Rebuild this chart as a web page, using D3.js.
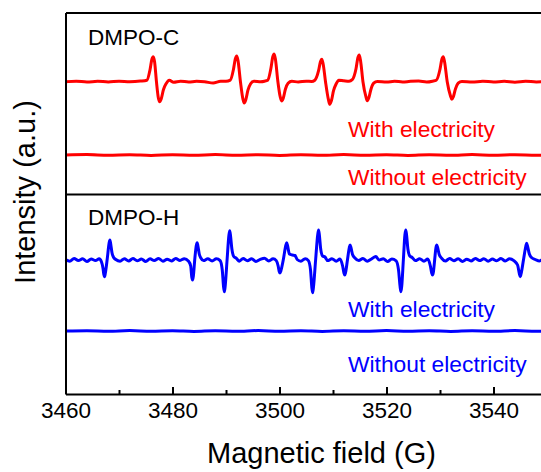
<!DOCTYPE html>
<html>
<head>
<meta charset="utf-8">
<script src="https://cdn.jsdelivr.net/npm/d3@7"></script>
<style>
  body { margin: 0; background: #fff; }
  svg { display: block; overflow: hidden; }
  text { font-family: "Liberation Sans", Arial, Helvetica, sans-serif; }
</style>
</head>
<body>
<svg id="chart" width="541" height="472"></svg>
<script>
// ---- data -------------------------------------------------------------
const fieldTicks = [3460, 3480, 3500, 3520, 3540];
const fieldMinorTicks = [3470, 3490, 3510, 3530, 3550];
const fieldDomain = [3460, 3550];
const panelLabels = ["DMPO-C", "DMPO-H"];
const traceLabels = ["With electricity", "Without electricity"];

// DMPO-C adduct, with electricity: [field (G), intensity (a.u.)]
const dmpoCWith = [
  [3460, 0], [3462, 0.5], [3464, -0.3], [3466, 0.4], [3468, -0.2], [3470, 0.5],
  [3472, 0], [3474, 0.6],
  [3475.2, 1.5], [3475.8, 12], [3476.15, 22.5], [3476.4, 25], [3476.65, 20], [3477.0, 0],
  [3477.35, -16], [3477.6, -20], [3477.9, -17], [3478.3, -8], [3478.8, -2], [3479.4, 1.5],
  [3480.2, -0.5], [3481.5, 0.5], [3483, -0.3], [3484.5, 0.4], [3486, 0], [3487.6, -1.4],
  [3489, 0.4], [3490.0, 0.4],
  [3490.8, 1.5], [3491.4, 12.5], [3491.75, 23], [3492.0, 25.7], [3492.25, 21], [3492.7, 0],
  [3493.15, -17], [3493.4, -21.3], [3493.7, -18], [3494.1, -8.5], [3494.6, -2], [3495.2, 0.5],
  [3496.5, 0], [3497.2, 0.5],
  [3497.8, 1.5], [3498.4, 13.5], [3498.75, 25], [3499.0, 27.7], [3499.25, 22], [3499.7, 0],
  [3500.15, -15.5], [3500.4, -19.3], [3500.7, -16.5], [3501.1, -7.5], [3501.6, -1.5], [3502.3, 0.5],
  [3503.5, -0.3], [3505.0, 0.5], [3506.0, 0.3],
  [3506.6, 1.5], [3507.3, 11], [3507.65, 20], [3507.9, 22.4], [3508.15, 18], [3508.6, 0],
  [3509.15, -18], [3509.4, -22.6], [3509.7, -19], [3510.1, -9], [3510.6, -2], [3511.1, 1.5],
  [3512, 1], [3513, 0.5],
  [3513.6, 2], [3514.3, 13], [3514.65, 24], [3514.9, 26.7], [3515.15, 21], [3515.6, 0],
  [3516.15, -15], [3516.4, -19], [3516.7, -16], [3517.1, -7.5], [3517.6, -1.5], [3518.3, 0.3],
  [3520, -0.4], [3521.5, 0.5], [3523, -0.3], [3524.5, 0.4], [3526, 0.6], [3527.5, -0.3],
  [3528.6, 0.5],
  [3529.3, 1.5], [3530.0, 12.5], [3530.35, 22.5], [3530.6, 25], [3530.85, 20], [3531.35, 0],
  [3531.95, -14], [3532.2, -17.6], [3532.5, -15], [3532.9, -7], [3533.4, -1.5], [3534.1, 0.3],
  [3536, -0.4], [3538, 0.5], [3540, -0.3], [3542, 0.4], [3544, -0.5], [3546, 0.4],
  [3548, -0.2], [3550, 0.3]
];

// DMPO-C, without electricity
const dmpoCWithout = [
  [3460, 0], [3464, 0.4], [3468, -0.3], [3472, 0.3], [3476, -0.4], [3480, 0.3],
  [3484, -0.2], [3488, 0.4], [3492, -0.3], [3496, 0.3], [3500, -0.4], [3504, 0.3],
  [3508, -0.3], [3512, 0.4], [3516, -0.2], [3520, 0.3], [3524, -0.4], [3528, 0.3],
  [3532, -0.3], [3536, 0.4], [3540, -0.2], [3544, 0.3], [3548, -0.3], [3550, 0]
];

// DMPO-H adduct, with electricity
const dmpoHWith = [
  [3460, 0.5], [3460.8, -1.2], [3461.6, 1.5], [3462.4, -0.6], [3463.2, 1.2], [3464, -1.5],
  [3464.8, 1], [3465.6, -0.5], [3466.3, 1.2], [3466.7, -1.5],
  [3467.0, -8], [3467.17, -14.5], [3467.3, -16.7], [3467.45, -13], [3467.8, 1],
  [3468.15, 17], [3468.3, 20], [3468.45, 16], [3468.7, 7], [3469.0, 2.5], [3469.4, 0.5],
  [3470.2, -1.2], [3471, 1.3], [3471.8, -1], [3472.6, 1.5], [3473.4, -0.8], [3474.2, 1],
  [3475, -1.5], [3475.8, 1.2], [3476.6, -0.6], [3477.4, 1.6], [3478.2, -1.2], [3479, 0.8],
  [3479.8, -1], [3480.6, 1.5], [3481.4, -0.5], [3482.2, 1.3], [3483, -1.2],
  [3483.4, -6], [3483.6, -17], [3483.75, -20], [3483.9, -16], [3484.15, 0],
  [3484.45, 14.5], [3484.6, 17.3], [3484.75, 14], [3485.0, 6], [3485.3, 2], [3485.8, -0.6],
  [3486.6, 1.3], [3487.4, -1], [3488.2, 1.3], [3488.9, -0.6],
  [3489.3, -10], [3489.55, -27], [3489.7, -31.7], [3489.85, -26], [3490.2, 0],
  [3490.55, 25], [3490.7, 29.3], [3490.85, 24], [3491.1, 11], [3491.45, 3.5], [3491.9, 1.8],
  [3492.5, -1.2], [3493.2, 1.5], [3494, -0.8], [3494.8, 1.3], [3495.6, -1.5], [3496.4, 0.6],
  [3497.2, 1.8], [3498, -1], [3498.8, 1.3], [3499.4, -0.6],
  [3499.75, -6], [3499.95, -11.5], [3500.1, -13], [3500.25, -11], [3500.7, 0],
  [3501.2, 15], [3501.35, 17.3], [3501.5, 14.5], [3501.85, 6], [3502.4, 5], [3502.9, 4.5],
  [3503.3, 0.5], [3504, -1.2], [3504.8, 1.3], [3505.4, -0.6],
  [3505.8, -10], [3506.05, -28], [3506.2, -32.7], [3506.35, -27], [3506.75, 0],
  [3507.15, 25.5], [3507.3, 30], [3507.45, 25], [3507.7, 11], [3508.05, 4], [3508.5, 3],
  [3509, -0.6], [3509.8, 1.3], [3510.6, -1.2], [3511.3, 1],
  [3511.8, -6], [3512.05, -13], [3512.2, -15], [3512.35, -12.5], [3512.7, 0],
  [3513.05, 12.5], [3513.2, 15], [3513.35, 12.5], [3513.65, 5.5], [3514.1, 2], [3514.8, -0.6],
  [3515.6, 1.5], [3516.4, -1.2], [3517.2, 1], [3518, 3.5], [3518.6, 0], [3519.4, 1.3],
  [3520.2, -1.5], [3521, 1], [3521.8, -0.8],
  [3522.25, -10], [3522.55, -27], [3522.7, -31.7], [3522.85, -26], [3523.15, 0],
  [3523.45, 25.5], [3523.6, 30], [3523.75, 25], [3524.0, 11], [3524.35, 4], [3524.8, 2.5],
  [3525.4, -0.6], [3526.2, 1.3], [3527, -1.2], [3527.7, 1],
  [3528.2, -6], [3528.45, -13], [3528.6, -15], [3528.75, -12.5], [3529.0, 0],
  [3529.25, 12.5], [3529.4, 15], [3529.55, 12.5], [3529.85, 5.5], [3530.3, 1.8], [3531, -1],
  [3531.8, 1.5], [3532.6, -0.8], [3533.4, 1.3], [3534.2, -1.5], [3535, 0.8], [3535.8, -1],
  [3536.6, 1.5], [3537.4, -0.6], [3538.2, 1.3], [3539, -1.2], [3539.8, 1], [3540.6, -0.8],
  [3541.4, 1.5], [3542.2, -1], [3543, 1.3], [3543.8, -0.6],
  [3544.5, -5], [3544.85, -14], [3545.0, -16.7], [3545.15, -14], [3545.6, 0],
  [3546.05, 14], [3546.2, 16.7], [3546.35, 14], [3546.7, 6], [3547.1, 2.5], [3547.8, 0.5],
  [3548.6, -1], [3549.4, 1.2], [3550, 0]
];

// DMPO-H, without electricity
const dmpoHWithout = [
  [3460, 0], [3464, 0.3], [3468, -0.3], [3472, 0.4], [3476, -0.2], [3480, 0.3],
  [3484, -0.4], [3488, 0.3], [3492, -0.3], [3496, 0.4], [3500, -0.2], [3504, 0.3],
  [3508, -0.4], [3512, 0.3], [3516, -0.3], [3520, 0.4], [3524, -0.2], [3528, 0.3],
  [3532, -0.4], [3536, 0.3], [3540, -0.3], [3544, 0.4], [3548, -0.2], [3550, 0]
];

// ---- layout -----------------------------------------------------------
const svg = d3.select("#chart");
const plot = { left: 65.5, right: 547, top: 12.5, bottom: 394 };

const x = d3.scaleLinear().domain(fieldDomain).range([plot.left, plot.right]);
// stacked intensity axis (a.u.); each trace sits on its own offset
const y = d3.scaleLinear().domain([0, 381.5]).range([plot.bottom, plot.top]);
const dividerLevel = 200;

const traces = [
  { data: dmpoCWith,     offset: 312.3, color: "#ff0000" },
  { data: dmpoCWithout,  offset: 239,   color: "#ff0000" },
  { data: dmpoHWith,     offset: 134,   color: "#0000ff" },
  { data: dmpoHWithout,  offset: 63,    color: "#0000ff" }
];

const line = d3.line()
  .x(d => x(d[0]))
  .curve(d3.curveMonotoneX);

svg.append("g")
  .selectAll("path")
  .data(traces)
  .join("path")
  .attr("fill", "none")
  .attr("stroke", d => d.color)
  .attr("stroke-width", 3)
  .attr("stroke-linejoin", "round")
  .attr("d", t => line.y(d => y(t.offset + d[1]))(t.data));

// frame: bottom axis, left axis, top edge and panel divider
const bottomAxis = svg.append("g")
  .attr("transform", `translate(0,${plot.bottom})`)
  .call(d3.axisBottom(x).tickValues(fieldTicks).tickFormat(d3.format("d"))
    .tickSizeInner(-7).tickSizeOuter(0).tickPadding(0));
bottomAxis.selectAll("text")
  .attr("y", 24).attr("dy", null)
  .attr("font-size", 22.5).attr("fill", "#000");

svg.append("g")
  .attr("transform", `translate(0,${plot.bottom})`)
  .call(d3.axisBottom(x).tickValues(fieldMinorTicks).tickSizeInner(-4).tickSizeOuter(0).tickFormat(""))
  .call(g => g.select(".domain").remove());

svg.append("g")
  .attr("transform", `translate(${plot.left},0)`)
  .call(d3.axisLeft(y).tickValues([]).tickSizeOuter(0));

svg.append("g")
  .attr("transform", `translate(0,${plot.top})`)
  .call(d3.axisTop(x).tickValues([]).tickSizeOuter(0));

svg.append("g")
  .attr("transform", `translate(0,${y(dividerLevel)})`)
  .call(d3.axisBottom(x).tickValues([]).tickSizeOuter(0));

svg.selectAll(".domain, .tick line")
  .attr("stroke", "#000").attr("stroke-width", 2);

// panel and trace labels
svg.append("g")
  .selectAll("text")
  .data(panelLabels)
  .join("text")
  .attr("x", 88)
  .attr("y", (d, i) => [45, 225][i])
  .attr("font-size", 22.5)
  .attr("fill", "#000")
  .text(d => d);

const traceText = [
  { label: traceLabels[0], y: 137, color: "#ff0000" },
  { label: traceLabels[1], y: 185, color: "#ff0000" },
  { label: traceLabels[0], y: 317, color: "#0000ff" },
  { label: traceLabels[1], y: 372, color: "#0000ff" }
];
svg.append("g")
  .selectAll("text")
  .data(traceText)
  .join("text")
  .attr("x", 348)
  .attr("y", d => d.y)
  .attr("font-size", 22.8)
  .attr("fill", d => d.color)
  .text(d => d.label);

// axis titles
svg.append("text")
  .attr("x", 321.5)
  .attr("y", 463)
  .attr("text-anchor", "middle")
  .attr("font-size", 29)
  .attr("fill", "#000")
  .text("Magnetic field (G)");

svg.append("text")
  .attr("transform", "translate(35,192) rotate(-90)")
  .attr("text-anchor", "middle")
  .attr("font-size", 29)
  .attr("fill", "#000")
  .text("Intensity (a.u.)");
</script>
</body>
</html>
